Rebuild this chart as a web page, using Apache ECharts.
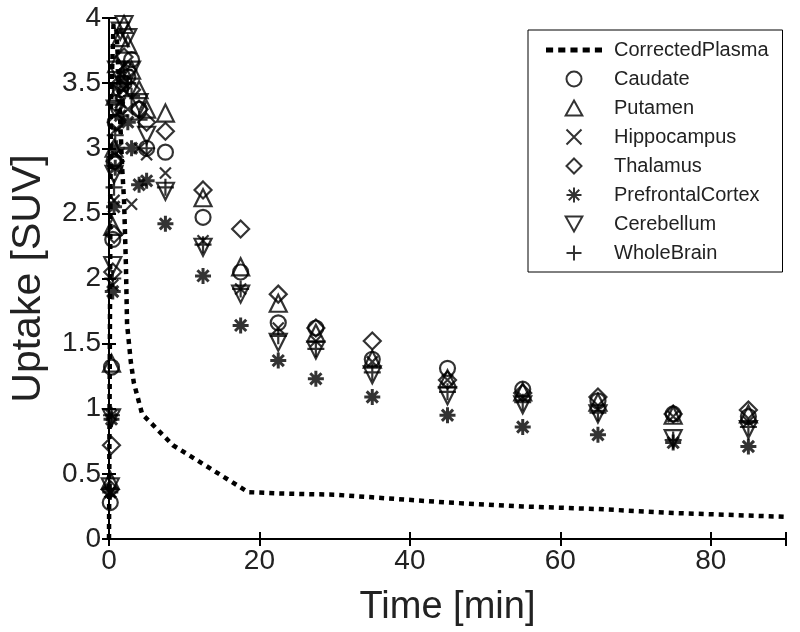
<!DOCTYPE html>
<html>
<head>
<meta charset="utf-8">
<script src="https://cdn.jsdelivr.net/npm/echarts@6/dist/echarts.min.js"></script>
<style>html,body{margin:0;padding:0;background:#fff}#c{width:800px;height:632px}</style>
</head>
<body>
<div id="c"></div>
<script>
const xTicks = [0, 20, 40, 60, 80];
const yTicks = [0, 0.5, 1, 1.5, 2, 2.5, 3, 3.5, 4];

const plasmaTimes = [0, 0.25, 0.6, 1.0, 1.25, 1.5, 1.75, 2.0, 2.25, 2.4, 2.9, 3.3, 4.4, 8.5, 13.5, 18.5, 22.5, 30, 35, 45, 55, 65, 75, 85, 90];
const plasmaValues = [0, 3.3, 3.95, 3.9, 3.6, 3.2, 2.85, 2.6, 2.1, 1.65, 1.36, 1.2, 0.96, 0.72, 0.54, 0.36, 0.35, 0.34, 0.32, 0.28, 0.25, 0.23, 0.2, 0.18, 0.17];

const times = [0.17, 0.33, 0.5, 0.67, 0.83, 1.0, 1.5, 2.0, 2.5, 3.0, 4.0, 5.0, 7.5, 12.5, 17.5, 22.5, 27.5, 35, 45, 55, 65, 75, 85];
const caudate     = [0.28, 1.32, 2.3, 2.9, 3.2, 3.35, 3.45, 3.5, 3.55, 3.68, 3.3, 3.0, 2.97, 2.47, 2.05, 1.66, 1.62, 1.38, 1.31, 1.15, 1.06, 0.96, 0.94];
const putamen     = [0.45, 1.35, 2.4, 3.0, 3.4, 3.65, 3.85, 3.95, 3.8, 3.6, 3.45, 3.3, 3.27, 2.62, 2.09, 1.81, 1.58, 1.38, 1.23, 1.13, 1.05, 0.95, 0.96];
const hippocampus = [0.36, 0.95, 1.95, 2.6, 2.95, 3.15, 3.35, 3.45, 3.3, 2.57, 3.0, 2.95, 2.81, 2.29, 1.92, 1.62, 1.52, 1.36, 1.22, 1.09, 1.0, 0.94, 0.9];
const thalamus    = [0.38, 0.72, 2.05, 2.34, 2.9, 3.2, 3.5, 3.7, 3.6, 3.45, 3.3, 3.2, 3.13, 2.68, 2.38, 1.88, 1.62, 1.52, 1.22, 1.12, 1.09, 0.96, 0.99];
const prefrontal  = [0.36, 0.92, 1.9, 2.55, 2.85, 3.0, 3.25, 3.5, 3.2, 3.0, 2.72, 2.75, 2.42, 2.02, 1.64, 1.37, 1.23, 1.09, 0.95, 0.86, 0.8, 0.74, 0.71];
const cerebellum  = [0.4, 0.93, 2.1, 2.8, 3.3, 3.6, 3.9, 3.95, 3.85, 3.6, 3.35, 3.1, 2.67, 2.24, 1.88, 1.51, 1.45, 1.26, 1.1, 1.03, 0.96, 0.77, 0.84];
const wholebrain  = [0.38, 0.95, 2.0, 2.7, 3.1, 3.35, 3.55, 3.6, 3.5, 3.4, 3.22, 3.0, 2.7, 2.26, 1.92, 1.56, 1.46, 1.28, 1.13, 1.05, 0.97, 0.76, 0.86];

const seriesNames = ['CorrectedPlasma', 'Caudate', 'Putamen', 'Hippocampus', 'Thalamus', 'PrefrontalCortex', 'Cerebellum', 'WholeBrain'];

const FONT = "'Liberation Sans', Arial, sans-serif";
const sym = {
  circle: 'circle',
  triangle: 'path://M10 0L20 18L0 18Z',
  cross: 'path://M0 0L20 20M20 0L0 20',
  diamond: 'path://M10 0L20 10L10 20L0 10Z',
  asterisk: 'path://M10 0L10 20M0 10L20 10M3 3L17 17M17 3L3 17',
  invTriangle: 'path://M0 0L20 0L10 18Z',
  plus: 'path://M10 0L10 20M0 10L20 10'
};
const dottedIcon = 'path://M0 0h7v5h-7zM12 0h7v5h-7zM24 0h7v5h-7zM36 0h7v5h-7zM48 0h7v5h-7z';

function pairs(vals) { return times.map((t, i) => [t, vals[i]]); }
function scatter(name, values, symbol, size, bw) {
  return {
    name, type: 'scatter', data: pairs(values), symbol, symbolSize: size,
    itemStyle: { color: 'rgba(0,0,0,0)', borderColor: '#000', borderWidth: bw || 2.2 },
    emphasis: { disabled: true }, z: 3
  };
}

const chart = echarts.init(document.getElementById('c'), null, { renderer: 'canvas' });

const axisCommon = {
  axisLine: { show: true, lineStyle: { color: '#000', width: 2 } },
  axisTick: { show: true, inside: true, length: 7, lineStyle: { color: '#000', width: 2 } },
  splitLine: { show: false }
};

chart.setOption({
  animation: false,
  backgroundColor: '#fff',
  grid: { left: 106, right: 14, top: 18, bottom: 91 },
  legend: {
    orient: 'vertical', left: 528, top: 30,
    data: seriesNames.map((n, i) => i === 0
      ? { name: n, icon: dottedIcon, itemStyle: { color: '#000', borderWidth: 0 } }
      : { name: n }),
    backgroundColor: '#fff', borderColor: '#000', borderWidth: 1,
    padding: [10, 14, 9, 18], itemGap: 9, itemWidth: 56, itemHeight: 15,
    symbolKeepAspect: true,
    textStyle: { fontFamily: FONT, fontSize: 20, color: '#222', padding: [0, 0, 0, 7] }
  },
  xAxis: [
    Object.assign({
      type: 'value', min: 0, max: 90, interval: 20, position: 'bottom',
      name: 'Time [min]', nameLocation: 'middle', nameGap: 50,
      nameTextStyle: { fontFamily: FONT, fontSize: 38, color: '#222' },
      axisLabel: { fontFamily: FONT, fontSize: 28, color: '#222', margin: 8,
        formatter: v => xTicks.includes(v) ? String(v) : '' }
    }, axisCommon),
    Object.assign({
      type: 'value', min: 0, max: 90, interval: 20, position: 'top',
      axisLabel: { show: false }
    }, axisCommon)
  ],
  yAxis: [
    Object.assign({
      type: 'value', min: 0, max: 4, interval: 0.5, position: 'left',
      name: 'Uptake [SUV]', nameLocation: 'middle', nameGap: 60, nameRotate: 90,
      nameTextStyle: { fontFamily: FONT, fontSize: 41, color: '#222' },
      axisLabel: { fontFamily: FONT, fontSize: 28, color: '#222', margin: 8,
        formatter: v => yTicks.includes(v) ? String(v) : '' }
    }, axisCommon),
    Object.assign({
      type: 'value', min: 0, max: 4, interval: 0.5, position: 'right',
      axisLabel: { show: false }
    }, axisCommon)
  ],
  series: [
    {
      name: 'CorrectedPlasma', type: 'line',
      data: plasmaTimes.map((t, i) => [t, plasmaValues[i]]),
      symbol: 'none', showSymbol: false, clip: true,
      lineStyle: { color: '#000', width: 4.5, type: [5, 5] },
      itemStyle: { color: '#000' }, z: 2
    },
    scatter('Caudate', caudate, sym.circle, 15),
    scatter('Putamen', putamen, sym.triangle, 17),
    scatter('Hippocampus', hippocampus, sym.cross, 11),
    scatter('Thalamus', thalamus, sym.diamond, 17),
    scatter('PrefrontalCortex', prefrontal, sym.asterisk, 16, 3),
    scatter('Cerebellum', cerebellum, sym.invTriangle, 17),
    scatter('WholeBrain', wholebrain, sym.plus, 17)
  ]
});
</script>
</body>
</html>
